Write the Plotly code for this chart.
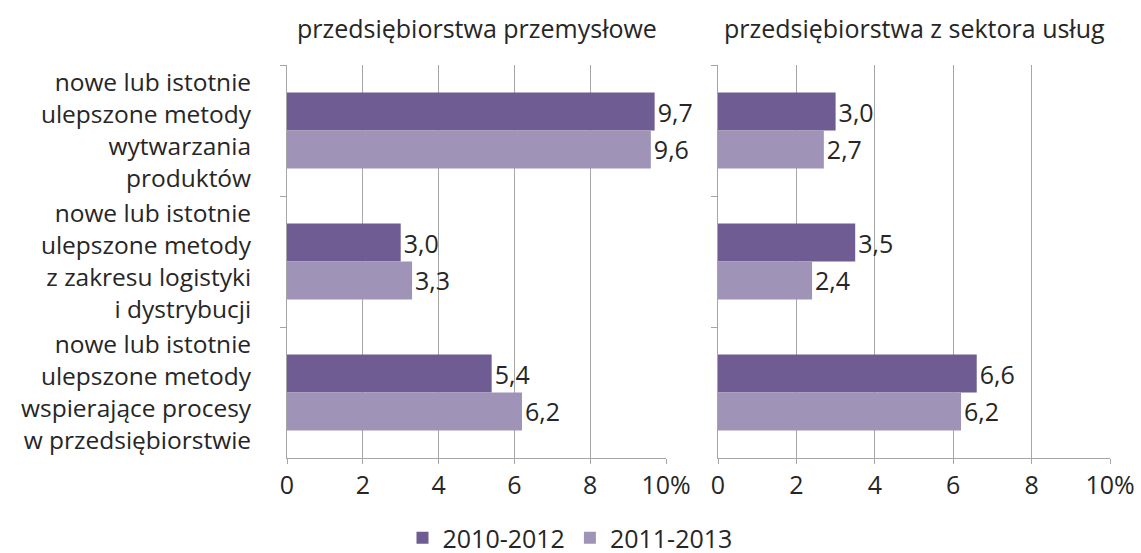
import plotly.graph_objects as go

categories = [
    "nowe lub istotnie<br>ulepszone metody<br>wytwarzania<br>produktów",
    "nowe lub istotnie<br>ulepszone metody<br>z zakresu logistyki<br>i dystrybucji",
    "nowe lub istotnie<br>ulepszone metody<br>wspierające procesy<br>w przedsiębiorstwie",
]
series_names = ["2010-2012", "2011-2013"]
industry_2010_2012 = [9.7, 3.0, 5.4]
industry_2011_2013 = [9.6, 3.3, 6.2]
services_2010_2012 = [3.0, 3.5, 6.6]
services_2011_2013 = [2.7, 2.4, 6.2]
panel_titles = ["przedsiębiorstwa przemysłowe", "przedsiębiorstwa z sektora usług"]
tick_vals = [0, 2, 4, 6, 8, 10]
tick_text = ["0", "2", "4", "6", "8", "10%"]

colors = ["#6F5C93", "#A093B8"]
FONT = "Open Sans"
TXT = "#262626"
GRID = "#A6A6A6"
FS = 25

W, H = 1141, 553
def px(v):
    return v / W
def py(v):
    return 1 - v / H

def fmt(v):
    return f"{v:.1f}".replace(".", ",")

fig = go.Figure()
panels = [
    ("x", "y", [industry_2010_2012, industry_2011_2013], True),
    ("x2", "y2", [services_2010_2012, services_2011_2013], False),
]
for xa, ya, data, show in panels:
    for i, vals in enumerate(data):
        fig.add_trace(go.Bar(
            x=vals, y=categories, orientation="h",
            name=series_names[i], marker_color=colors[i],
            text=[fmt(v) for v in vals], textposition="outside",
            textfont=dict(size=FS, color=TXT, family=FONT),
            constraintext="none",
            cliponaxis=False, showlegend=show,
            xaxis=xa, yaxis=ya, legendgroup=series_names[i],
        ))

ydom = [py(458), py(65)]
xcommon = dict(range=[0, 10], tickvals=tick_vals, ticktext=tick_text,
               showgrid=True, gridcolor=GRID, gridwidth=1,
               showline=True, linecolor=GRID, linewidth=1,
               ticks="outside", ticklen=5, tickcolor=GRID,
               tickfont=dict(size=FS, color=TXT, family=FONT),
               zeroline=False, automargin=False, fixedrange=True)
ycommon = dict(autorange="reversed", type="category", tickson="boundaries",
               showline=True, linecolor=GRID, linewidth=1,
               ticks="outside", ticklen=6, tickcolor=GRID,
               showgrid=False, automargin=False, domain=ydom, fixedrange=True,
               tickfont=dict(size=24.5, color=TXT, family=FONT))

fig.update_layout(
    width=W, height=H,
    template="none",
    plot_bgcolor="white", paper_bgcolor="white",
    margin=dict(l=0, r=0, t=0, b=0, autoexpand=False),
    barmode="group", bargap=0.42, bargroupgap=0,
    font=dict(family=FONT, color=TXT),
    xaxis=dict(domain=[px(287), px(666)], anchor="y", **xcommon),
    xaxis2=dict(domain=[px(718), px(1110)], anchor="y2", **xcommon),
    yaxis=dict(anchor="x", showticklabels=True, ticklabelstandoff=30, **ycommon),
    yaxis2=dict(anchor="x2", showticklabels=False, **ycommon),
    legend=dict(orientation="h", x=px(570), xanchor="center", y=py(538), yanchor="middle",
                font=dict(size=FS, color=TXT, family=FONT), traceorder="normal",
                itemwidth=30, tracegroupgap=0, bgcolor="rgba(0,0,0,0)"),
    annotations=[
        dict(text=panel_titles[0], x=px((287 + 666) / 2), y=py(28),
             xref="paper", yref="paper", showarrow=False,
             xanchor="center", yanchor="middle",
             font=dict(size=FS, color=TXT, family=FONT)),
        dict(text=panel_titles[1], x=px((718 + 1110) / 2), y=py(28),
             xref="paper", yref="paper", showarrow=False,
             xanchor="center", yanchor="middle",
             font=dict(size=FS, color=TXT, family=FONT)),
    ],
)

# keep the page exactly the size of the figure (no body margin, nothing overflowing)
page_fix = (
    "document.documentElement.style.margin='0';"
    "document.body.style.margin='0';"
    "document.body.style.overflow='hidden';"
    "document.documentElement.style.overflow='hidden';"
    "var g=document.getElementsByClassName('plotly-graph-div')[0];"
    "g.style.overflow='hidden';"
    "var c=g.querySelector('.svg-container'); if(c){c.style.overflow='hidden';}"
)
fig.write_html("out.html", post_script=page_fix,
               config={"displayModeBar": False, "staticPlot": True})
